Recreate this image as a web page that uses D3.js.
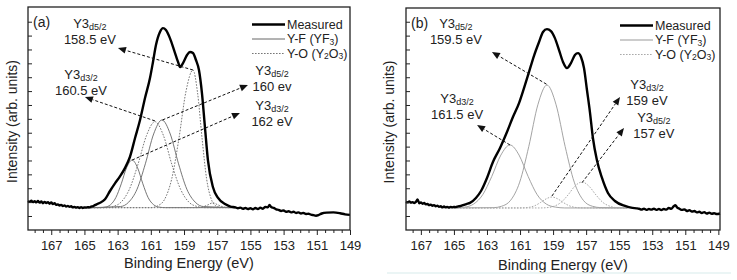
<!DOCTYPE html>
<html><head><meta charset="utf-8">
<script src="https://cdn.jsdelivr.net/npm/d3@7"></script>
<style>body{margin:0;background:#fff;} svg{display:block;font-family:"Liberation Sans",Arial,sans-serif;}</style>
</head><body><svg id="c" width="737" height="280"></svg>
<script>
// ---------- DATA (binding energy eV, intensity arb. units) ----------
const xTickLabels = [167,165,163,161,159,157,155,153,151,149];
const yTicks = [0,1,2,3,4,5,6,7,8,9,10,11,12,13,14];

const measuredA = [[168.40,1.08],[168.30,1.02],[168.20,1.10],[168.10,1.00],[168.00,1.06],[167.90,0.98],[167.80,1.08],[167.70,0.96],[167.60,1.04],[167.50,0.92],[167.40,1.02],[167.30,0.94],[167.20,1.00],[167.10,0.88],[167.00,0.98],[166.90,0.86],[166.80,0.92],[166.70,0.80],[166.60,0.84],[166.50,0.76],[166.40,0.80],[166.30,0.72],[166.20,0.76],[166.10,0.68],[166.00,0.72],[165.90,0.66],[165.80,0.70],[165.70,0.62],[165.60,0.66],[165.50,0.60],[165.40,0.64],[165.30,0.58],[165.20,0.64],[165.10,0.58],[165.00,0.62],[164.90,0.60],[164.80,0.64],[164.70,0.62],[164.60,0.68],[164.50,0.70],[164.40,0.76],[164.30,0.82],[164.20,0.88],[164.06,0.95],[163.76,1.20],[163.46,1.80],[163.16,2.35],[162.86,2.85],[162.56,3.45],[162.26,4.25],[161.95,5.62],[161.65,6.92],[161.35,8.50],[161.05,9.94],[160.87,11.10],[160.69,12.32],[160.45,13.26],[160.27,13.54],[160.09,13.40],[159.85,12.82],[159.60,11.96],[159.36,11.10],[159.24,10.73],[159.06,11.02],[158.82,11.60],[158.64,11.82],[158.46,11.74],[158.28,11.24],[158.10,10.52],[157.92,8.86],[157.74,6.41],[157.56,4.03],[157.26,2.09],[156.95,1.30],[156.53,0.86],[156.20,0.68],[155.90,0.62],[155.75,0.56],[155.60,0.60],[155.45,0.52],[155.30,0.58],[155.15,0.50],[155.00,0.56],[154.85,0.48],[154.70,0.58],[154.55,0.50],[154.40,0.60],[154.25,0.52],[154.10,0.66],[153.95,0.62],[153.85,0.80],[153.75,0.64],[153.60,0.58],[153.45,0.48],[153.30,0.44],[153.15,0.36],[153.00,0.40],[152.85,0.30],[152.70,0.34],[152.55,0.26],[152.40,0.30],[152.25,0.22],[152.10,0.26],[151.95,0.18],[151.80,0.22],[151.65,0.14],[151.50,0.16],[151.35,0.10],[151.20,0.06],[151.05,0.02],[150.90,0.06],[150.70,0.18],[150.40,0.24],[150.00,0.26],[149.60,0.20],[149.30,0.12],[149.00,0.08]];

const yfA1 = [[164.8,0.6],[162.83,0.68],[162.33,1.00],[161.83,1.93],[161.33,3.76],[160.83,5.91],[160.33,6.92],[159.83,5.91],[159.33,3.76],[158.83,1.93],[158.33,1.00],[157.83,0.68],[155.6,0.6]];
const yfA2 = [[164.8,0.6],[164.1,0.6],[163.75,0.64],[163.43,0.81],[163.11,1.32],[162.78,2.32],[162.46,3.48],[162.13,4.03],[161.80,3.48],[161.48,2.32],[161.16,1.32],[160.83,0.81],[160.51,0.64],[160.1,0.6],[155.6,0.6]];
const yoA1 = [[164.8,0.6],[161.0,0.6],[160.59,0.73],[160.16,1.22],[159.74,2.68],[159.31,5.56],[158.89,8.93],[158.46,10.52],[158.19,8.93],[157.91,5.56],[157.64,2.68],[157.36,1.22],[157.09,0.73],[156.8,0.62],[155.6,0.6]];
const yoA2 = [[164.8,0.6],[163.8,0.6],[163.31,0.68],[162.80,0.99],[162.29,1.93],[161.78,3.70],[161.26,5.80],[160.75,6.80],[160.24,5.80],[159.73,3.70],[159.21,1.93],[158.70,0.99],[158.19,0.68],[157.7,0.6],[155.6,0.6]];
const yoA3 = [[164.8,0.6],[158.2,0.6],[157.86,0.66],[157.56,0.80],[157.26,0.95],[156.96,0.80],[156.66,0.66],[156.3,0.6],[155.6,0.6]];

const measuredB = [[167.90,1.02],[167.80,0.98],[167.70,1.04],[167.60,0.96],[167.50,1.00],[167.40,0.94],[167.30,1.02],[167.20,1.20],[167.10,0.92],[167.00,0.98],[166.90,0.88],[166.80,0.94],[166.70,0.84],[166.60,0.86],[166.50,0.78],[166.40,0.82],[166.30,0.74],[166.20,0.78],[166.10,0.70],[166.00,0.74],[165.90,0.66],[165.80,0.70],[165.70,0.62],[165.60,0.68],[165.50,0.62],[165.40,0.66],[165.30,0.60],[165.20,0.66],[165.10,0.62],[165.00,0.66],[164.90,0.64],[164.80,0.68],[164.70,0.70],[164.60,0.72],[164.50,0.76],[164.40,0.80],[164.25,0.86],[164.03,0.94],[163.67,1.30],[163.36,1.80],[163.00,2.74],[162.64,3.89],[162.21,4.90],[161.79,6.05],[161.43,7.13],[161.06,8.14],[160.76,9.22],[160.46,10.37],[160.16,11.53],[159.85,12.54],[159.61,13.26],[159.37,13.47],[159.13,13.33],[158.89,12.82],[158.64,11.96],[158.40,11.10],[158.16,10.66],[157.92,11.02],[157.68,11.60],[157.49,11.74],[157.31,11.46],[157.13,10.66],[156.95,9.08],[156.77,7.49],[156.59,5.62],[156.35,4.03],[156.04,2.74],[155.68,1.66],[155.26,1.08],[154.65,0.72],[154.20,0.58],[153.95,0.55],[153.80,0.52],[153.65,0.46],[153.50,0.52],[153.35,0.44],[153.20,0.50],[153.05,0.46],[152.90,0.52],[152.75,0.44],[152.60,0.50],[152.45,0.42],[152.30,0.50],[152.15,0.46],[152.00,0.58],[151.85,0.52],[151.70,0.70],[151.60,0.78],[151.50,0.62],[151.35,0.52],[151.20,0.44],[151.05,0.48],[150.90,0.36],[150.75,0.42],[150.60,0.32],[150.45,0.36],[150.30,0.26],[150.15,0.30],[150.00,0.22],[149.85,0.28],[149.70,0.18],[149.55,0.24],[149.40,0.16],[149.25,0.20],[149.10,0.14],[148.90,0.18]];

const yfB1 = [[165.0,0.58],[162.6,0.60],[162.12,0.70],[161.57,1.13],[161.02,2.44],[160.47,5.01],[159.92,8.02],[159.37,9.44],[158.82,8.02],[158.27,5.01],[157.72,2.44],[157.17,1.13],[156.62,0.70],[156.1,0.60],[154.5,0.58]];
const yfB2 = [[165.0,0.60],[164.36,0.64],[163.81,0.86],[163.26,1.53],[162.71,2.85],[162.16,4.39],[161.61,5.12],[161.06,4.39],[160.51,2.85],[159.96,1.53],[159.41,0.86],[158.86,0.64],[158.3,0.58],[154.5,0.58]];
const yoB1 = [[165.0,0.58],[161.2,0.58],[160.77,0.59],[160.43,0.63],[160.09,0.75],[159.75,0.98],[159.41,1.24],[159.07,1.37],[158.73,1.24],[158.39,0.98],[158.05,0.75],[157.71,0.63],[157.37,0.59],[156.9,0.58],[154.5,0.58]];
const yoB2 = [[165.0,0.58],[159.8,0.58],[159.38,0.60],[158.95,0.70],[158.53,0.97],[158.10,1.51],[157.68,2.15],[157.25,2.45],[156.83,2.15],[156.40,1.51],[155.98,0.97],[155.55,0.70],[155.13,0.60],[154.5,0.58]];

const annotA = [
  {sub:"d5/2", energy:"158.5 eV", from:[158.46,10.52], to:[162.98,12.10], label:[164.67,13.55]},
  {sub:"d3/2", energy:"160.5 eV", from:[160.75,6.85], to:[164.97,8.57], label:[165.21,9.90]},
  {sub:"d5/2", energy:"160 ev",   from:[160.30,6.92], to:[155.15,9.44], label:[153.70,10.15]},
  {sub:"d3/2", energy:"162 eV",   from:[162.13,4.03], to:[155.63,7.42], label:[153.70,7.62]}
];
const annotB = [
  {sub:"d5/2", energy:"159.5 eV", from:[159.40,9.50], to:[162.70,11.82], label:[164.88,13.55]},
  {sub:"d3/2", energy:"161.5 eV", from:[161.61,5.12], to:[163.60,6.56], label:[164.81,8.12]},
  {sub:"d3/2", energy:"159 eV",   from:[159.07,1.44], to:[154.95,8.57], label:[153.32,9.14]},
  {sub:"d5/2", energy:"157 eV",   from:[157.25,2.40], to:[154.71,6.34], label:[152.90,6.80]}
];

// ---------- DRAWING ----------
const svg = d3.select("#c");
const FONT = '"Liberation Sans", Arial, sans-serif';

function panel(p){
  const x = d3.scaleLinear().domain(p.xDomain).range([p.left, p.right]);
  const y = d3.scaleLinear().domain(p.yDomain).range([p.bottom, p.top]);
  const g = svg.append("g");
  const line = d3.line().x(d => x(d[0])).y(d => y(d[1])).curve(d3.curveMonotoneX);

  p.yf.forEach(s => g.append("path").attr("d", line(s)).attr("fill","none")
      .attr("stroke", p.yfColor).attr("stroke-width", 0.9));
  p.yo.forEach(s => g.append("path").attr("d", line(s)).attr("fill","none")
      .attr("stroke", p.yoColor).attr("stroke-width", 1).attr("stroke-dasharray","1.6,1.4"));

  g.append("path").attr("d", line(p.measured)).attr("fill","none")
    .attr("stroke","#000").attr("stroke-width",2.4).attr("stroke-linejoin","round");

  // arrows + labels
  p.annot.forEach(a => {
    const x0 = x(a.from[0]), y0 = y(a.from[1]), x1 = x(a.to[0]), y1 = y(a.to[1]);
    const ang = Math.atan2(y1 - y0, x1 - x0), L = 8, W = 3.4;
    const bx = x1 - L*Math.cos(ang), by = y1 - L*Math.sin(ang);
    g.append("line").attr("x1",x0).attr("y1",y0).attr("x2",bx).attr("y2",by)
      .attr("stroke","#111").attr("stroke-width",1).attr("stroke-dasharray","3,2");
    g.append("path").attr("d",`M${x1},${y1}L${bx+W*Math.sin(ang)},${by-W*Math.cos(ang)}L${bx-W*Math.sin(ang)},${by+W*Math.cos(ang)}Z`)
      .attr("fill","#111");
    const lx = x(a.label[0]), ly = y(a.label[1]);
    const t = g.append("text").attr("x",lx).attr("y",ly).attr("text-anchor","middle")
      .attr("font-size",13).attr("fill","#222");
    t.append("tspan").text("Y3");
    t.append("tspan").attr("font-size",9).attr("dy",2).text(a.sub);
    g.append("text").attr("x",lx).attr("y",ly+16).attr("text-anchor","middle")
      .attr("font-size",13).attr("fill","#222").text(a.energy);
  });

  // frame
  g.append("rect").attr("x",p.left).attr("y",p.top).attr("width",p.right-p.left).attr("height",p.bottom-p.top)
    .attr("fill","none").attr("stroke","#222").attr("stroke-width",1.3);

  // x axis
  const minorVals = d3.range(148, 169, 0.5).filter(v => v <= p.xDomain[0] && v >= p.xDomain[1] && !xTickLabels.includes(v));
  const gx1 = g.append("g").attr("transform",`translate(0,${p.bottom})`)
    .call(d3.axisBottom(x).tickValues(minorVals).tickSize(3).tickFormat(""));
  const gx2 = g.append("g").attr("transform",`translate(0,${p.bottom})`)
    .call(d3.axisBottom(x).tickValues(xTickLabels).tickSize(5).tickPadding(6).tickFormat(d3.format("d")));
  [gx1,gx2].forEach(a => { a.select(".domain").remove(); a.selectAll("line").attr("stroke","#222"); });
  gx2.selectAll("text").attr("font-size",13).attr("font-family",FONT).attr("fill","#222");

  // y axis (inward ticks, no labels)
  const gy = g.append("g").attr("transform",`translate(${p.left},0)`)
    .call(d3.axisLeft(y).tickValues(yTicks).tickSize(-4).tickFormat(""));
  gy.select(".domain").remove();
  gy.selectAll("line").attr("stroke","#222");

  // titles
  g.append("text").attr("transform",`translate(${p.ytx},${(p.top+p.bottom)/2+3}) rotate(-90)`)
    .attr("text-anchor","middle").attr("dy","0.35em").attr("font-size",14).attr("fill","#222")
    .text("Intensity (arb. units)");
  g.append("text").attr("x",(p.left+p.right)/2).attr("y",p.xty).attr("text-anchor","middle")
    .attr("dy","0.35em").attr("font-size",14.5).attr("fill","#222").text("Binding Energy (eV)");
  g.append("text").attr("x",p.left+5).attr("y",p.top+20).attr("font-size",14).attr("fill","#222").text(p.tag);

  // legend
  const rows = [
    {name:"Measured", stroke:"#000", w:2.4, dash:null},
    {name:"YF", stroke:p.yfColor, w:1, dash:null},
    {name:"YO", stroke:p.yoColor, w:1, dash:"1.6,1.4"}
  ];
  rows.forEach((r,i) => {
    const yy = p.top + 17.5 + i*14.5;
    g.append("line").attr("x1",p.legX).attr("x2",p.legX+33).attr("y1",yy).attr("y2",yy)
      .attr("stroke",r.stroke).attr("stroke-width",r.w).attr("stroke-dasharray",r.dash);
    const t = g.append("text").attr("x",p.legX+35).attr("y",yy+4.3).attr("font-size",12.5).attr("fill","#222");
    if (r.name === "Measured") t.text("Measured");
    else if (r.name === "YF") {
      t.append("tspan").text("Y-F (YF");
      t.append("tspan").attr("font-size",8.5).attr("dy",1.5).text("3");
      t.append("tspan").attr("dy",-1.5).text(")");
    } else {
      t.append("tspan").text("Y-O (Y");
      t.append("tspan").attr("font-size",8.5).attr("dy",1.5).text("2");
      t.append("tspan").attr("dy",-1.5).text("O");
      t.append("tspan").attr("font-size",8.5).attr("dy",1.5).text("3");
      t.append("tspan").attr("dy",-1.5).text(")");
    }
  });
}

panel({left:28, right:350, top:7, bottom:230, xDomain:[168.4,149.0], yDomain:[-1.01,15.06],
  measured:measuredA, yf:[yfA1,yfA2], yo:[yoA1,yoA2,yoA3], yfColor:"#666", yoColor:"#777",
  annot:annotA, ytx:12, xty:263, tag:"(a)", legX:252});
panel({left:406, right:720, top:8, bottom:230, xDomain:[167.9,148.9], yDomain:[-1.01,14.99],
  measured:measuredB, yf:[yfB1,yfB2], yo:[yoB1,yoB2], yfColor:"#999", yoColor:"#aaa",
  annot:annotB, ytx:389, xty:265, tag:"(b)", legX:620});

svg.append("line").attr("x1",387).attr("x2",731).attr("y1",273).attr("y2",273)
  .attr("stroke","#e4f2f2").attr("stroke-width",1.5);
</script></body></html>
